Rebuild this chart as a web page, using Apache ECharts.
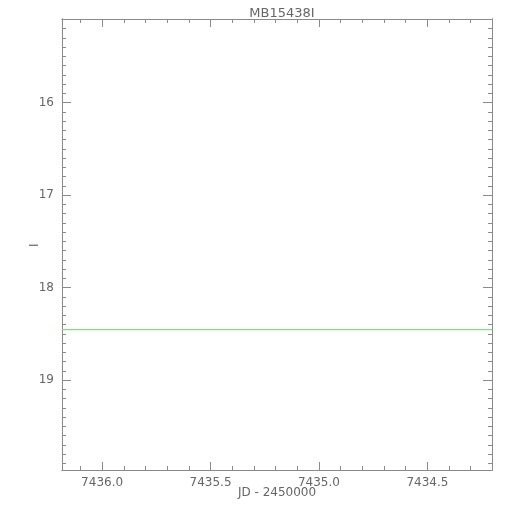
<!DOCTYPE html>
<html><head><meta charset="utf-8">
<script src="https://cdn.jsdelivr.net/npm/echarts@6/dist/echarts.min.js"></script>
<style>html,body{margin:0;padding:0;background:#fff}#c{width:510px;height:510px}</style>
</head><body><div id="c"></div>
<script>
var title = "MB15438I";
var xName = "JD - 2450000";
var yName = "I";
var xRange = [7434.202, 7436.185];
var yRange = [15.097, 19.971];
var xMajor = [7434.5, 7435.0, 7435.5, 7436.0];
var xMinor = [7434.3, 7434.4, 7434.6, 7434.7, 7434.8, 7434.9, 7435.1, 7435.2, 7435.3, 7435.4, 7435.6, 7435.7, 7435.8, 7435.9, 7436.1];
var yMajor = [16, 17, 18, 19];
var yMinor = [15.1, 15.2, 15.3, 15.4, 15.5, 15.6, 15.7, 15.8, 15.9, 16.1, 16.2, 16.3, 16.4, 16.5, 16.6, 16.7, 16.8, 16.9, 17.1, 17.2, 17.3, 17.4, 17.5, 17.6, 17.7, 17.8, 17.9, 18.1, 18.2, 18.3, 18.4, 18.5, 18.6, 18.7, 18.8, 18.9, 19.1, 19.2, 19.3, 19.4, 19.5, 19.6, 19.7, 19.8, 19.9];
var lineX = [7436.185, 7434.202];
var lineY = [18.455, 18.455];

var axCol = '#8a8a8a', txtCol = '#666', font = 'DejaVu Sans';
function xa(pos, ticks, len, labels) {
  return {
    type: 'value', position: pos, inverse: true, min: xRange[0], max: xRange[1],
    axisLine: {show: true, onZero: false, lineStyle: {color: axCol, width: 1}},
    axisTick: {show: true, inside: true, length: len, customValues: ticks, lineStyle: {color: axCol}},
    axisLabel: labels ? {show: true, customValues: ticks, color: txtCol, fontFamily: font, fontSize: 12, margin: 7,
      formatter: function (v) { return v.toFixed(1); }} : {show: false},
    splitLine: {show: false}
  };
}
function ya(pos, ticks, len, labels) {
  return {
    type: 'value', position: pos, inverse: true, min: yRange[0], max: yRange[1],
    axisLine: {show: true, onZero: false, lineStyle: {color: axCol, width: 1}},
    axisTick: {show: true, inside: true, length: len, customValues: ticks, lineStyle: {color: axCol}},
    axisLabel: labels ? {show: true, customValues: ticks, color: txtCol, fontFamily: font, fontSize: 12, margin: 8,
      formatter: function (v) { return String(Math.round(v)); }} : {show: false},
    splitLine: {show: false}
  };
}
var data = lineX.map(function (x, i) { return [x, lineY[i]]; });
var chart = echarts.init(document.getElementById('c'), null, {renderer: 'canvas'});
chart.setOption({
  animation: false,
  backgroundColor: '#fff',
  title: {text: title, left: 277, top: 2, textAlign: 'center',
    textStyle: {color: txtCol, fontFamily: font, fontSize: 13, fontWeight: 'normal'}},
  grid: {left: 62, right: 18, top: 19, bottom: 40, containLabel: false},
  xAxis: [xa('bottom', xMajor, 8, true), xa('bottom', xMinor, 4, false), xa('top', xMajor, 8, false), xa('top', xMinor, 4, false)],
  yAxis: [ya('left', yMajor, 9, true), ya('left', yMinor, 4, false), ya('right', yMajor, 9, false), ya('right', yMinor, 4, false)],
  graphic: [
    {type: 'text', x: 277, y: 487, style: {text: xName, fill: txtCol, font: '12px "DejaVu Sans"', align: 'center'}},
    {type: 'text', x: 29, y: 247, rotation: Math.PI / 2, style: {text: yName, fill: txtCol, font: '12px "DejaVu Sans"'}}
  ],
  series: [{
    type: 'line', xAxisIndex: 0, yAxisIndex: 0, data: data, symbol: 'none',
    lineStyle: {color: '#7ee07e', width: 1.2}
  }]
});
</script></body></html>
